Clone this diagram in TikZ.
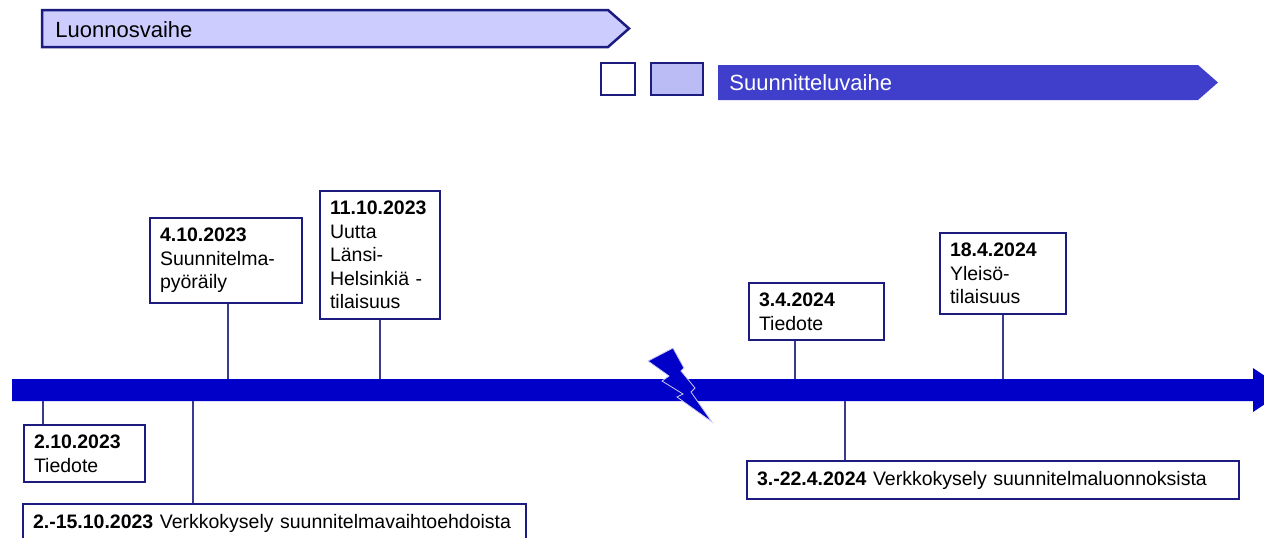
\documentclass[tikz,border=0pt]{standalone}
\usepackage{fontspec}
\setmainfont{Liberation Sans}
\definecolor{navy}{HTML}{1B1B80}
\definecolor{linkblue}{HTML}{3A3A90}
\definecolor{lavender}{HTML}{CCCCFF}
\definecolor{lavenderdark}{HTML}{BBBBF6}
\definecolor{phaseblue}{HTML}{3F3FCC}
\definecolor{barblue}{HTML}{0000C8}
\begin{document}
\begin{tikzpicture}[
    x=0.5pt, y=-0.5pt,
    event/.style={draw=navy, line width=1pt, fill=white, anchor=north west,
        inner xsep=5pt, inner ysep=5pt, text width=#1, align=left,
        font=\fontsize{9.75}{11.75}\selectfont},
    link/.style={draw=linkblue, line width=0.75pt},
    phasetext/.style={anchor=west, inner sep=0pt, font=\fontsize{11}{13}\selectfont}
]
\useasboundingbox (0,0) rectangle (1264,537);

% phases
\draw[navy, line width=1.25pt, fill=lavender]
    (42,10) -- (608,10) -- (629,28.5) -- (608,47) -- (42,47) -- cycle;
\node[phasetext] (luonnos) at (55,30) {Luonnosvaihe};
\draw[navy, line width=1pt, fill=white] (601,63) rectangle (635,95);
\draw[navy, line width=1pt, fill=lavenderdark] (651,63) rectangle (703,95);
\fill[phaseblue] (718,65) -- (1198,65) -- (1218,82.5) -- (1198,100) -- (718,100) -- cycle;
\node[phasetext, text=white] (suunnittelu) at (729,83) {Suunnitteluvaihe};

% timeline
\fill[barblue] (12,379) -- (1253,379) -- (1253,368) -- (1286,390) -- (1253,412)
    -- (1253,401) -- (12,401) -- cycle;
\filldraw[barblue, draw=white!80!barblue, line width=0.4pt]
    (648,361) -- (673,348) -- (684,368) -- (681,371) -- (695,388) -- (691,392)
    -- (712,422) -- (677,397) -- (683,394) -- (662,381) -- (669,376) -- cycle;

% events
\node[event=50.5pt] (b1) at (23,424) {\textbf{2.10.2023}\\Tiedote};
\node[event=66pt] (b2) at (149,217) {\textbf{4.10.2023}\\Suunnitelma-\\pyöräily};
\node[event=50pt] (b3) at (319,190) {\textbf{11.10.2023}\\Uutta\\Länsi-\\Helsinkiä -\\tilaisuus};
\node[event=241.5pt] (b4) at (22,503) {\textbf{2.-15.10.2023} Verkkokysely suunnitelmavaihtoehdoista};
\node[event=57.5pt] (b5) at (748,282) {\textbf{3.4.2024}\\Tiedote};
\node[event=53pt] (b6) at (939,232) {\textbf{18.4.2024}\\Yleisö-\\tilaisuus};
\node[event=236pt] (b7) at (746,460) {\textbf{3.-22.4.2024} Verkkokysely suunnitelmaluonnoksista};

\coordinate (t1) at (43,401);
\coordinate (t2) at (228,379);
\coordinate (t3) at (380,379);
\coordinate (t4) at (193,401);
\coordinate (t5) at (795,379);
\coordinate (t6) at (1003,379);
\coordinate (t7) at (845,401);

\draw[link] (t1) -- (t1 |- b1.north);
\draw[link] (t2) -- (t2 |- b2.south);
\draw[link] (t3) -- (t3 |- b3.south);
\draw[link] (t4) -- (t4 |- b4.north);
\draw[link] (t5) -- (t5 |- b5.south);
\draw[link] (t6) -- (t6 |- b6.south);
\draw[link] (t7) -- (t7 |- b7.north);
\end{tikzpicture}
\end{document}
